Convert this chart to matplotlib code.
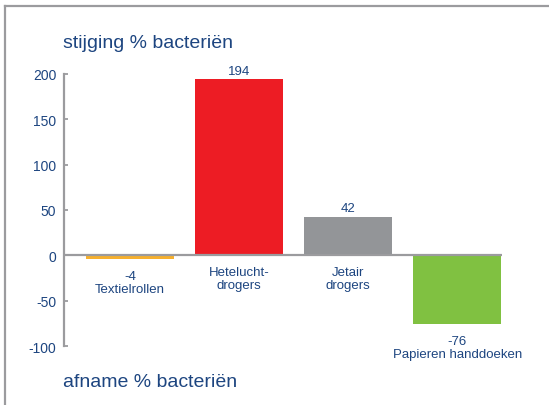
import matplotlib
matplotlib.use("Agg")
import matplotlib.pyplot as plt
from matplotlib.lines import Line2D

plt.rcParams['font.family'] = ['Liberation Sans', 'DejaVu Sans']
plt.rcParams['axes.unicode_minus'] = False

categories = ['Textielrollen', 'Hetelucht-\ndrogers', 'Jetair\ndrogers', 'Papieren handdoeken']
values = [-4, 194, 42, -76]
colors = ['#F7B02C', '#ED1C24', '#939598', '#80C141']
yticks = [-100, -50, 0, 50, 100, 150, 200]

txt = '#1D4580'
grey = '#9B9B9E'

fig = plt.figure(figsize=(5.49, 4.06), dpi=100)
ax = fig.add_axes([0.1166, 0.1453, 0.7978, 0.670])

x = list(range(len(values)))
ax.bar(x, values, width=0.807, color=colors, zorder=2)
ax.axhline(0, color=grey, lw=1.6, zorder=3)

ax.set_xlim(-0.606, 3.41)
ax.set_ylim(-100, 200)
ax.set_yticks(yticks)
ax.set_xticks([])
for s in ['top', 'right', 'bottom']:
    ax.spines[s].set_visible(False)
ax.spines['left'].set_color(grey)
ax.spines['left'].set_linewidth(1.6)
ax.tick_params(axis='y', direction='in', length=3, width=1.3, color=grey,
               labelcolor=txt, labelsize=10, pad=5.5)

# labels on the bars
for i, (v, c) in enumerate(zip(values, categories)):
    if v > 0:
        ax.annotate(str(v), (i, v), xytext=(0, 2), textcoords='offset points',
                    ha='center', va='bottom', fontsize=9.5, color=txt)
        ax.annotate(c, (i, 0), xytext=(0, -8), textcoords='offset points',
                    ha='center', va='top', fontsize=9.5, color=txt, linespacing=1.05)
    else:
        ax.annotate('%d\n%s' % (v, c), (i, v), xytext=(0, -8), textcoords='offset points',
                    ha='center', va='top', fontsize=9.5, color=txt, linespacing=1.05)

fig.text(0.115, 0.894, 'stijging % bacteriën', fontsize=14, color=txt, va='center')
fig.text(0.115, 0.059, 'afname % bacteriën', fontsize=14, color=txt, va='center')

# frame
fig.add_artist(Line2D([5/549, 1], [1 - 7/406] * 2, color=grey, lw=1.6))
fig.add_artist(Line2D([5/549] * 2, [0, 1 - 7/406], color=grey, lw=1.6))

fig.savefig('out.png', dpi=100)
